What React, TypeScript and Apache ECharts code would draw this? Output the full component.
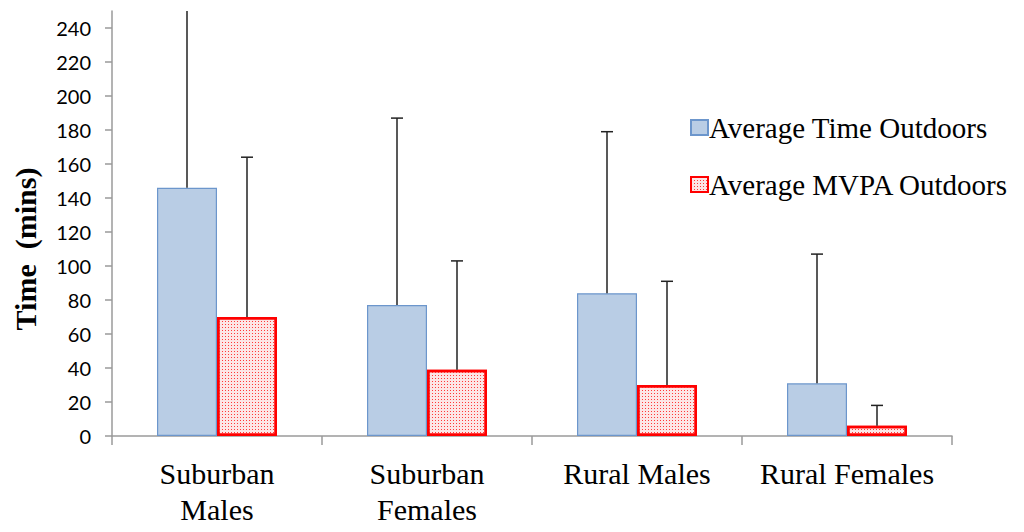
import React, { useEffect, useRef } from "react";
import * as echarts from "echarts";

const categories = ["Suburban\nMales", "Suburban\nFemales", "Rural Males", "Rural Females"];
const timeOutdoors = [146, 77, 84, 31];
const timeOutdoorsUpper = [275, 187, 179, 107];
const mvpaOutdoors = [70, 39, 30, 6];
const mvpaOutdoorsUpper = [164, 103, 91, 18];
const yTicks = [0, 20, 40, 60, 80, 100, 120, 140, 160, 180, 200, 220, 240];
const yTitle = "Time  (mins)";

const BAR_W = 60;

function errorSeries(values: number[], upper: number[], offset: number) {
  return {
    type: "custom",
    clip: true,
    silent: true,
    z: 5,
    data: values.map((v, i) => [i, v, upper[i]]),
    encode: { x: 0, y: [1, 2] },
    renderItem: (params: any, api: any) => {
      const i = api.value(0);
      const lo = api.coord([i, api.value(1)]);
      const hi = api.coord([i, api.value(2)]);
      const x = lo[0] + offset;
      const cap = 6;
      const style = { stroke: "#222", lineWidth: 1.5 };
      return {
        type: "group",
        children: [
          { type: "line", shape: { x1: x, y1: lo[1], x2: x, y2: hi[1] }, style },
          { type: "line", shape: { x1: x - cap, y1: hi[1], x2: x + cap, y2: hi[1] }, style },
        ],
      };
    },
  };
}

export default function App() {
  const ref = useRef<HTMLDivElement>(null);
  useEffect(() => {
    if (!ref.current) return;
    const chart = echarts.init(ref.current, undefined, { renderer: "svg" });
    chart.setOption({
      animation: false,
      grid: { left: 112, right: 72, top: 11, bottom: 96 },
      graphic: [
        {
          type: "text",
          x: 25,
          y: 249,
          rotation: Math.PI / 2,
          style: {
            text: yTitle,
            fontFamily: "Liberation Serif",
            fontWeight: "bold",
            fontSize: 30,
            fill: "#000",
            align: "center",
            verticalAlign: "middle",
          },
        },
      ],
      legend: {
        orient: "vertical",
        left: 685,
        top: 108,
        icon: "rect",
        itemWidth: 17,
        itemHeight: 15,
        itemGap: 28,
        textStyle: { fontFamily: "Liberation Serif", fontSize: 29, color: "#000", padding: [0, 0, 0, -4] },
        data: ["Average Time Outdoors", "Average MVPA Outdoors"],
      },
      xAxis: {
        type: "category",
        data: categories,
        axisLine: { lineStyle: { color: "#9a9a9a", width: 1.5 } },
        axisTick: { show: true, alignWithLabel: false, length: 9, lineStyle: { color: "#9a9a9a", width: 1.5 } },
        axisLabel: {
          fontFamily: "Liberation Serif",
          fontSize: 30,
          lineHeight: 36,
          color: "#000",
          margin: 19,
          verticalAlign: "top",
          interval: 0,
        },
      },
      yAxis: {
        type: "value",
        min: 0,
        max: 250,
        interval: 20,
        axisLine: { show: true, lineStyle: { color: "#9a9a9a", width: 1.5 } },
        axisTick: { show: true, length: 7, customValues: yTicks, lineStyle: { color: "#9a9a9a", width: 1.5 } },
        axisLabel: {
          customValues: yTicks,
          fontFamily: "Lato",
          fontSize: 20,
          color: "#000",
          margin: 21,
        },
        splitLine: { show: false },
      },
      series: [
        {
          name: "Average Time Outdoors",
          type: "bar",
          data: timeOutdoors,
          barWidth: BAR_W,
          barGap: "0%",
          itemStyle: { color: "#b9cde5", borderColor: "#6c96cc", borderWidth: 1.2 },
        },
        {
          name: "Average MVPA Outdoors",
          type: "bar",
          data: mvpaOutdoors,
          barWidth: BAR_W,
          barGap: "0%",
          itemStyle: {
            color: "#fde6e6",
            borderColor: "#ff0000",
            borderWidth: 2.5,
            decal: {
              symbol: "rect",
              symbolSize: 1,
              color: "#ff3a3a",
              dashArrayX: [1, 2],
              dashArrayY: [1, 2],
              rotation: 0,
            },
          },
        },
        errorSeries(timeOutdoors, timeOutdoorsUpper, -BAR_W / 2),
        errorSeries(mvpaOutdoors, mvpaOutdoorsUpper, BAR_W / 2),
      ],
    });
    return () => chart.dispose();
  }, []);
  return <div ref={ref} style={{ width: 1024, height: 532, position: "absolute", left: 0, top: 0 }} />;
}
